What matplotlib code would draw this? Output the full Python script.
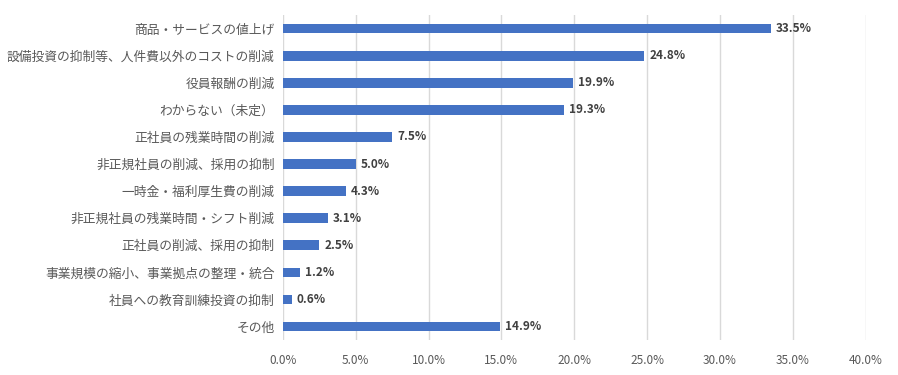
import matplotlib.pyplot as plt
from matplotlib.ticker import FuncFormatter

plt.rcParams['font.family'] = ['Noto Sans CJK JP', 'DejaVu Sans']

categories = [
    "商品・サービスの値上げ",
    "設備投資の抑制等、人件費以外のコストの削減",
    "役員報酬の削減",
    "わからない（未定）",
    "正社員の残業時間の削減",
    "非正規社員の削減、採用の抑制",
    "一時金・福利厚生費の削減",
    "非正規社員の残業時間・シフト削減",
    "正社員の削減、採用の抑制",
    "事業規模の縮小、事業拠点の整理・統合",
    "社員への教育訓練投資の抑制",
    "その他",
]
values = [33.5, 24.8, 19.9, 19.3, 7.5, 5.0, 4.3, 3.1, 2.5, 1.2, 0.6, 14.9]
xticks = [0, 5, 10, 15, 20, 25, 30, 35, 40]

fig = plt.figure(figsize=(8.98, 3.75), dpi=100)
ax = fig.add_axes([0.315, 0.093, 0.649, 0.867])

y = list(range(len(categories)))
ax.barh(y, values, height=0.36, color="#4472C4", zorder=3)
for yi, v in zip(y, values):
    ax.text(v + 0.35, yi, f"{v:.1f}%", va="center", ha="left",
            fontsize=8.5, fontweight="bold", color="#404040")

ax.set_yticks(y)
ax.set_yticklabels(categories, fontsize=9.2, color="#595959")
ax.set_ylim(len(categories) - 0.5, -0.5)
ax.set_xlim(0, 40)
ax.set_xticks(xticks)
ax.xaxis.set_major_formatter(FuncFormatter(lambda v, p: f"{v:.1f}%"))
ax.tick_params(axis="x", labelsize=8.5, colors="#595959", length=0, pad=10)
ax.tick_params(axis="y", length=0, pad=6)
ax.grid(axis="x", color="#d9d9d9", linewidth=1, zorder=0)
for s in ax.spines.values():
    s.set_visible(False)

fig.savefig("out.png", dpi=100)
